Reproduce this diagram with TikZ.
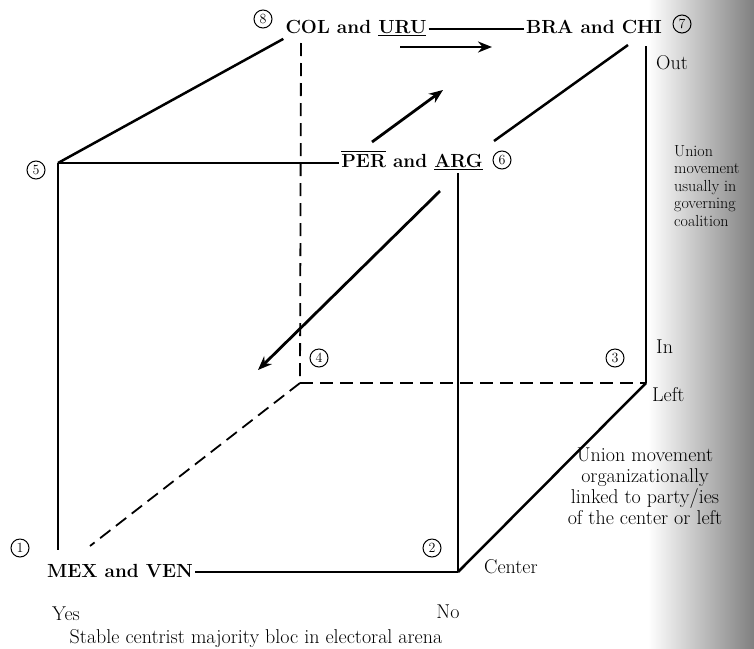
\documentclass[tikz,border=0pt]{standalone}
\usepackage{fontspec}
\usepackage{tikz}
\usepackage{amsmath}
\usetikzlibrary{arrows.meta, positioning}
\tikzstyle{arrow} = [line width=2.8pt,->,>={Stealth[length=14pt,width=11pt]}]
\tikzstyle{edge} = [line width=2.5pt]
\tikzstyle{hidden} = [line width=1.8pt, dash pattern=on 13pt off 7pt]
\tikzstyle{country} = [font=\fontsize{19}{20}\selectfont\bfseries, inner sep=2pt]
\tikzstyle{corner} = [circle, draw, line width=1pt, inner sep=0pt, minimum size=18pt, font=\fontsize{14}{14}\selectfont]
\tikzstyle{axislabel} = [font=\fontsize{20}{21}\selectfont, inner sep=1pt]

\begin{document}
\begin{tikzpicture}[x=1pt, y=-1pt]
\useasboundingbox (0,0) rectangle (754,648);

% Scan shadow
\shade[left color=white, right color=black!50] (648,0) rectangle (754,648);

% Cube corners
\coordinate (c5) at (58,163);
\coordinate (c2) at (458,572);
\coordinate (c4) at (300,383);
\coordinate (c3) at (646,383);
\coordinate (c8) at (301,43);
\coordinate (c7) at (646,46);
\coordinate (c1) at (90,546);
\coordinate (b7) at (628,45);
\coordinate (b6) at (494,141);

% Country pairs
\node (col) [country, anchor=base] at (356,33) {COL and \underline{URU}};
\node (bra) [country, anchor=base] at (594,33) {BRA and CHI};
\node (per) [country, anchor=base] at (412,167) {$\overline{\text{PER}}$ and \underline{ARG}};
\node (mex) [country, anchor=base] at (120,577) {MEX and VEN};

% Corner numbers
\node (n1) [corner] at (20,548) {1};
\node (n2) [corner] at (432,548) {2};
\node (n3) [corner] at (615,358) {3};
\node (n4) [corner] at (319,358) {4};
\node (n5) [corner] at (36,170) {5};
\node (n6) [corner] at (502,160) {6};
\node (n7) [corner] at (682,24) {7};
\node (n8) [corner] at (263,19) {8};

% Front face
\draw [edge] (c5) -- (c5 -| per.west);
\draw [edge, shorten >=12pt] (c5) -- (c5 |- mex.north);
\draw [edge] ([yshift=5pt]mex.base east) -- (c2);
\draw [edge] (c2 |- per.south) -- (c2);

% Back face
\draw [edge] ([yshift=4pt]col.base east) -- ([yshift=4pt]bra.base west);
\draw [edge] (c7) -- (c3);
\draw [hidden] (c8) -- (c4);
\draw [hidden] (c4) -- (c3);

% Depth edges
\draw [edge] (c5) -- (col.south west);
\draw [edge] (b7) -- (b6);
\draw [edge] (c3) -- (c2);
\draw [hidden] (c4) -- (c1);

% Movements
\coordinate (a1s) at (400,47);
\coordinate (a1e) at (492,47);
\coordinate (a2s) at (372,142);
\coordinate (a2e) at (443,90);
\coordinate (a3s) at (440,191);
\coordinate (a3e) at (258,370);
\draw [arrow] (a1s) -- (a1e);
\draw [arrow] (a2s) -- (a2e);
\draw [arrow] (a3s) -- (a3e);

% Axis labels
\node (out) [axislabel, anchor=west] at (655,63) {Out};
\node (in) [axislabel, anchor=west] at (655,347) {In};
\node (left) [axislabel, anchor=west] at (651,395) {Left};
\node (center) [axislabel, anchor=west] at (483,567) {Center};
\node (yes) [axislabel] at (66,614) {Yes};
\node (no) [axislabel] at (448,612) {No};
\node (bloc) [axislabel] at (256,639) {Stable centrist majority bloc in electoral arena};
\node (govern) [anchor=north west, align=left, inner sep=0pt, font=\fontsize{16}{17.5}\selectfont] at (674,145) {Union\\movement\\usually in\\governing\\coalition};
\node (linked) [axislabel, align=center] at (645,486) {Union movement\\organizationally\\linked to party/ies\\of the center or left};

\end{tikzpicture}
\end{document}
